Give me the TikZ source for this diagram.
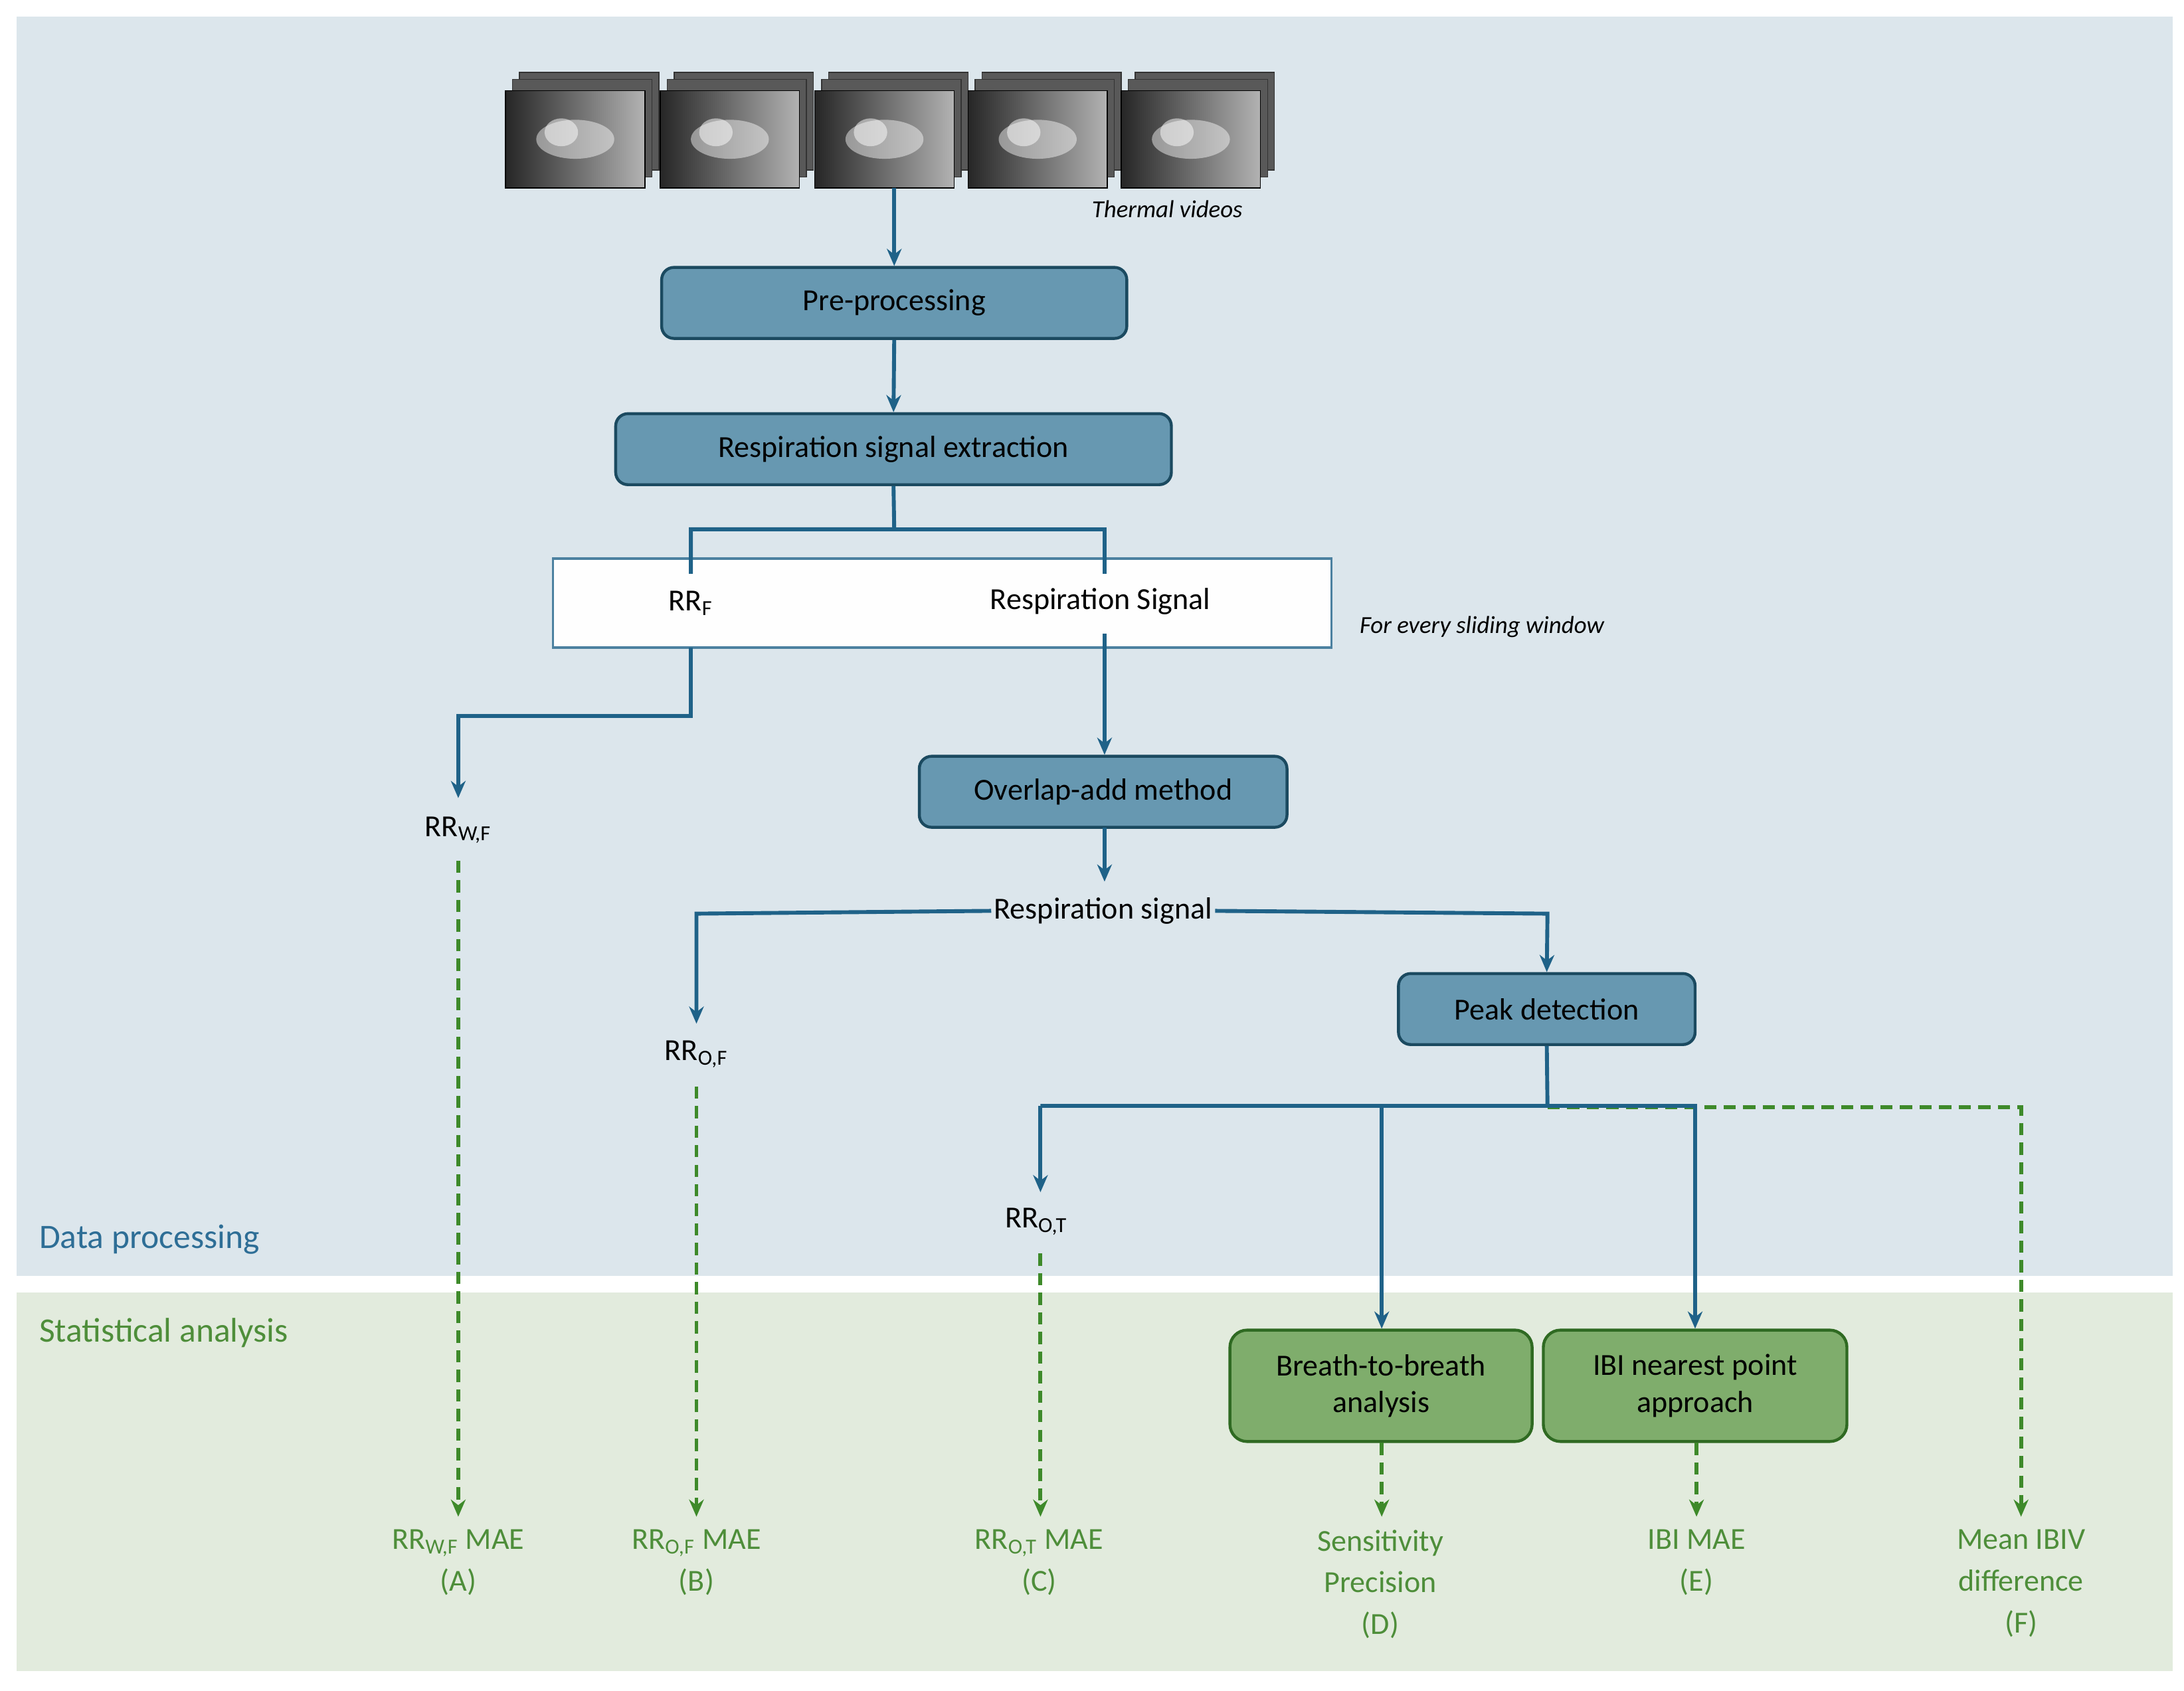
\documentclass[tikz,border=0pt]{standalone}
\usepackage{fontspec}
\setmainfont{Carlito}
\usetikzlibrary{arrows.meta,shapes.geometric}
\definecolor{bgblue}{HTML}{DCE6EC}
\definecolor{bggreen}{HTML}{E2EBDD}
\definecolor{boxblue}{HTML}{6798B1}
\definecolor{edgeblue}{HTML}{1B4A60}
\definecolor{lineblue}{HTML}{1F6288}
\definecolor{gfill}{HTML}{7FAD6C}
\definecolor{gedge}{HTML}{2F6A22}
\definecolor{gtext}{HTML}{4E8E3A}
\definecolor{gline}{HTML}{3E8A2A}
\definecolor{dptext}{HTML}{2E6E96}
\begin{document}
\begin{tikzpicture}[x=0.02cm,y=-0.02cm,font=\fontsize{12.5}{15}\selectfont,
 bbox/.style={draw=edgeblue,line width=1.2pt,fill=boxblue,rounded corners=5pt,inner sep=0pt,text=black},
 gbox/.style={draw=gedge,line width=1.2pt,fill=gfill,rounded corners=7pt,inner sep=0pt,align=center,text=black},
 bl/.style={draw=lineblue,line width=1.6pt},
 ar/.style={bl,-{Stealth[length=7pt,width=6pt]}},
 gd/.style={draw=gline,line width=1.6pt,dash pattern=on 5pt off 3pt},
 gar/.style={gd,-{Stealth[length=7pt,width=6pt]}},
 lab/.style={inner sep=1pt,text=black},
 glab/.style={text=gtext,align=center,inner sep=0pt}]
\useasboundingbox (0,0) rectangle (1568,1214);
\fill[white] (0,0) rectangle (1568,1214);
\fill[bgblue] (12,12) rectangle (1560,916);
\fill[bggreen] (12,928) rectangle (1560,1200);
% thermal frames
\foreach \x in {363,474,585,695,805}{
 \foreach \d in {10,5}{\draw[fill=gray!70!black,draw=black!80] (\x+\d,65-\d-3) rectangle (\x+100+\d,135-\d-3);}
 \shade[left color=black!85,right color=gray!60,draw=black] (\x,65) rectangle (\x+100,135);
 \fill[white,opacity=0.45] (\x+50,100) ellipse (28 and 14);
 \fill[white,opacity=0.5] (\x+40,95) ellipse (12 and 10);
}
\node[font=\fontsize{10}{12}\selectfont\itshape] (tv) at (838,150) {Thermal videos};
\coordinate (tvb) at (642,135);
\node[bbox,minimum width=334\pgflinewidth*0+6.68cm,minimum height=1.02cm] (pre) at (642,217.5) {Pre-processing};
\node[bbox,minimum width=7.98cm,minimum height=1.02cm] (ext) at (641.5,322.5) {Respiration signal extraction};
\node[draw=lineblue!80,line width=1pt,fill=white!96!bgblue,minimum width=11.18cm,minimum height=1.28cm,inner sep=0] (win) at (676.5,433) {};
\node[lab] (rrf) at (496,433) {RR\textsubscript{F}};
\node[lab] (rs) at (790,432) {Respiration Signal};
\node[font=\fontsize{10}{12}\selectfont\itshape,anchor=west] (fsw) at (970,450) {For every sliding window};
\node[bbox,minimum width=5.28cm,minimum height=1.02cm] (ola) at (792,568.5) {Overlap-add method};
\node[lab] (rwf) at (329,596) {RR\textsubscript{W,F}};
\node[lab] (rsig) at (792,654) {Respiration signal};
\node[lab] (rof) at (500,757) {RR\textsubscript{O,F}};
\node[bbox,minimum width=4.26cm,minimum height=1.02cm] (pk) at (1110.5,724.5) {Peak detection};
\node[lab] (rot) at (744,877) {RR\textsubscript{O,T}};
\node[gbox,minimum width=4.34cm,minimum height=1.6cm] (b2b) at (991.5,995) {Breath-to-breath\\analysis};
\node[gbox,minimum width=4.36cm,minimum height=1.6cm] (ibi) at (1217,995) {IBI nearest point\\approach};
\node[text=dptext,font=\fontsize{14}{17}\selectfont,anchor=west] (dp) at (22,890) {Data processing};
\node[text=gtext,font=\fontsize{14}{17}\selectfont,anchor=west] (sa) at (22,957) {Statistical analysis};
% bottom labels
\node[glab,anchor=north] (A) at (329,1098) {RR\textsubscript{W,F} MAE\\[2pt](A)};
\node[glab,anchor=north] (B) at (500,1098) {RR\textsubscript{O,F} MAE\\[2pt](B)};
\node[glab,anchor=north] (C) at (746,1098) {RR\textsubscript{O,T} MAE\\[2pt](C)};
\node[glab,anchor=north] (D) at (991,1098) {Sensitivity\\[2pt]Precision\\[2pt](D)};
\node[glab,anchor=north] (E) at (1218,1098) {IBI MAE\\[2pt](E)};
\node[glab,anchor=north] (F) at (1451,1098) {Mean IBIV\\[2pt]difference\\[2pt](F)};
% connectors
\draw[ar] (tvb) -- (pre.north);
\draw[ar] (pre.south) -- (ext.north);
\draw[bl] (ext.south) -- (642,380) -- (496,380) -- (496,412);
\draw[bl] (642,380) -- (793,380) -- (793,412);
\draw[ar] (496,465) -- (496,514) -- (329,514) -- (329,573);
\draw[ar] (793,455) -- (ola.north-|793,0);
\draw[ar] (793,594) -- (793,633);
\draw[ar] (rsig.west) -- (500,656) -- (500,735);
\draw[ar] (rsig.east) -- (1111,656) -- (pk.north);
\draw[gar] (1111,795) -- (1451,795) -- (1451,1089);
\draw[bl] (pk.south) -- (1111,794) -- (747,794);
\draw[ar] (747,794) -- (747,856);
\draw[ar] (992,794) -- (b2b.north-|992,0);
\draw[ar] (1111,794) -- (1217,794) -- (ibi.north-|1217,0);
\draw[gar] (329,618) -- (329,1089);
\draw[gar] (500,780) -- (500,1089);
\draw[gar] (747,900) -- (747,1089);
\draw[gar] (992,1036) -- (992,1089);
\draw[gar] (1218,1036) -- (1218,1089);
\end{tikzpicture}
\end{document}
